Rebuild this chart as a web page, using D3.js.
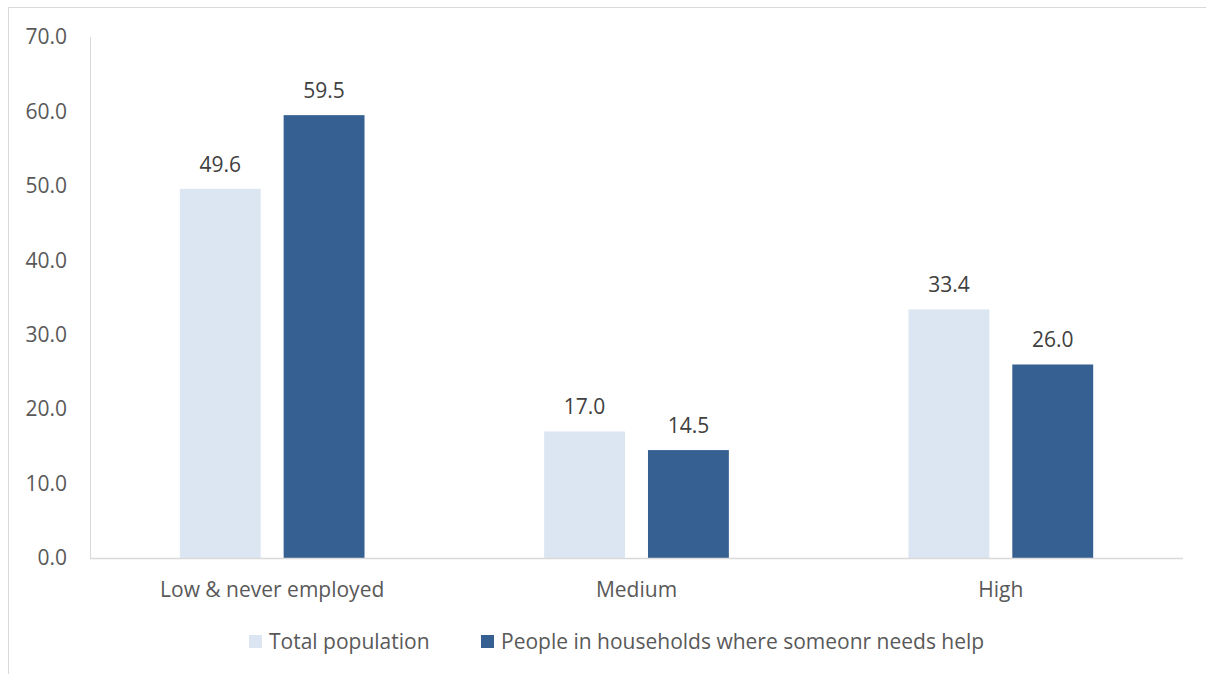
<!DOCTYPE html>
<html><head><meta charset="utf-8">
<script src="https://cdn.jsdelivr.net/npm/d3@7"></script>
<style>body{margin:0;background:#fff}svg{display:block}text{font-family:"Open Sans",sans-serif}</style>
</head><body>
<svg id="c" width="1206" height="674"></svg>
<script>
const categories = ["Low & never employed", "Medium", "High"];
const seriesNames = ["Total population", "People in households where someonr needs help"];
const totalPopulation = [49.6, 17.0, 33.4];
const householdsNeedHelp = [59.5, 14.5, 26.0];
const yTicks = [0, 10, 20, 30, 40, 50, 60, 70];
const colors = ["#DCE6F2", "#376092"];

(function () {
const svg = d3.select("#c");
const fs = "21px";
svg.append("rect").attr("x", 8.5).attr("y", 7.5).attr("width", 1220).attr("height", 700)
  .attr("fill", "none").attr("stroke", "#d9d9d9");

const pLeft = 90, pRight = 1183, pTop = 37, pBottom = 558;
const x0 = d3.scaleBand().domain(categories).range([pLeft, pRight]).paddingInner(0).paddingOuter(0);
const x1 = d3.scaleBand().domain([0, 1]).range([0, x0.bandwidth()]).paddingInner(0.221).paddingOuter(0.865);
const y = d3.scaleLinear().domain([0, 70]).range([pBottom, pTop]);

svg.append("line").attr("x1", pLeft + 0.5).attr("x2", pLeft + 0.5).attr("y1", pTop).attr("y2", pBottom)
  .attr("stroke", "#d9d9d9").attr("stroke-width", 1);

const yAxis = svg.append("g").attr("transform", `translate(${pLeft},0)`)
  .call(d3.axisLeft(y).tickValues(yTicks).tickFormat(d3.format(".1f")).tickSize(0).tickPadding(23));
yAxis.select(".domain").remove();
yAxis.selectAll("text").attr("fill", "#595959").style("font-size", fs).style("font-family", "'Open Sans', sans-serif");

const data = [totalPopulation, householdsNeedHelp];
categories.forEach((c, i) => {
  const g = svg.append("g").attr("transform", `translate(${x0(c)},0)`);
  data.forEach((s, k) => {
    g.append("rect").attr("x", x1(k)).attr("width", x1.bandwidth())
      .attr("y", y(s[i])).attr("height", y(0) - y(s[i])).attr("fill", colors[k]);
    g.append("text").attr("x", x1(k) + x1.bandwidth() / 2).attr("y", y(s[i]) - 17)
      .attr("text-anchor", "middle").attr("fill", "#404040").style("font-size", fs)
      .text(d3.format(".1f")(s[i]));
  });
});

svg.append("line").attr("x1", pLeft).attr("x2", pRight).attr("y1", pBottom + 0.5).attr("y2", pBottom + 0.5)
  .attr("stroke", "#d9d9d9").attr("stroke-width", 1.5);

const xAxis = svg.append("g").attr("transform", `translate(0,${pBottom})`)
  .call(d3.axisBottom(x0).tickSize(0).tickPadding(24));
xAxis.select(".domain").remove();
xAxis.selectAll("text").attr("fill", "#595959").style("font-size", fs).style("font-family", "'Open Sans', sans-serif");

const legend = svg.append("g");
const legX = [249, 481];
seriesNames.forEach((n, k) => {
  legend.append("rect").attr("x", legX[k]).attr("y", 635).attr("width", 13).attr("height", 13).attr("fill", colors[k]);
  legend.append("text").attr("x", legX[k] + 20).attr("y", 649).attr("fill", "#595959").style("font-size", fs).text(n);
});
})();
</script>
</body></html>
